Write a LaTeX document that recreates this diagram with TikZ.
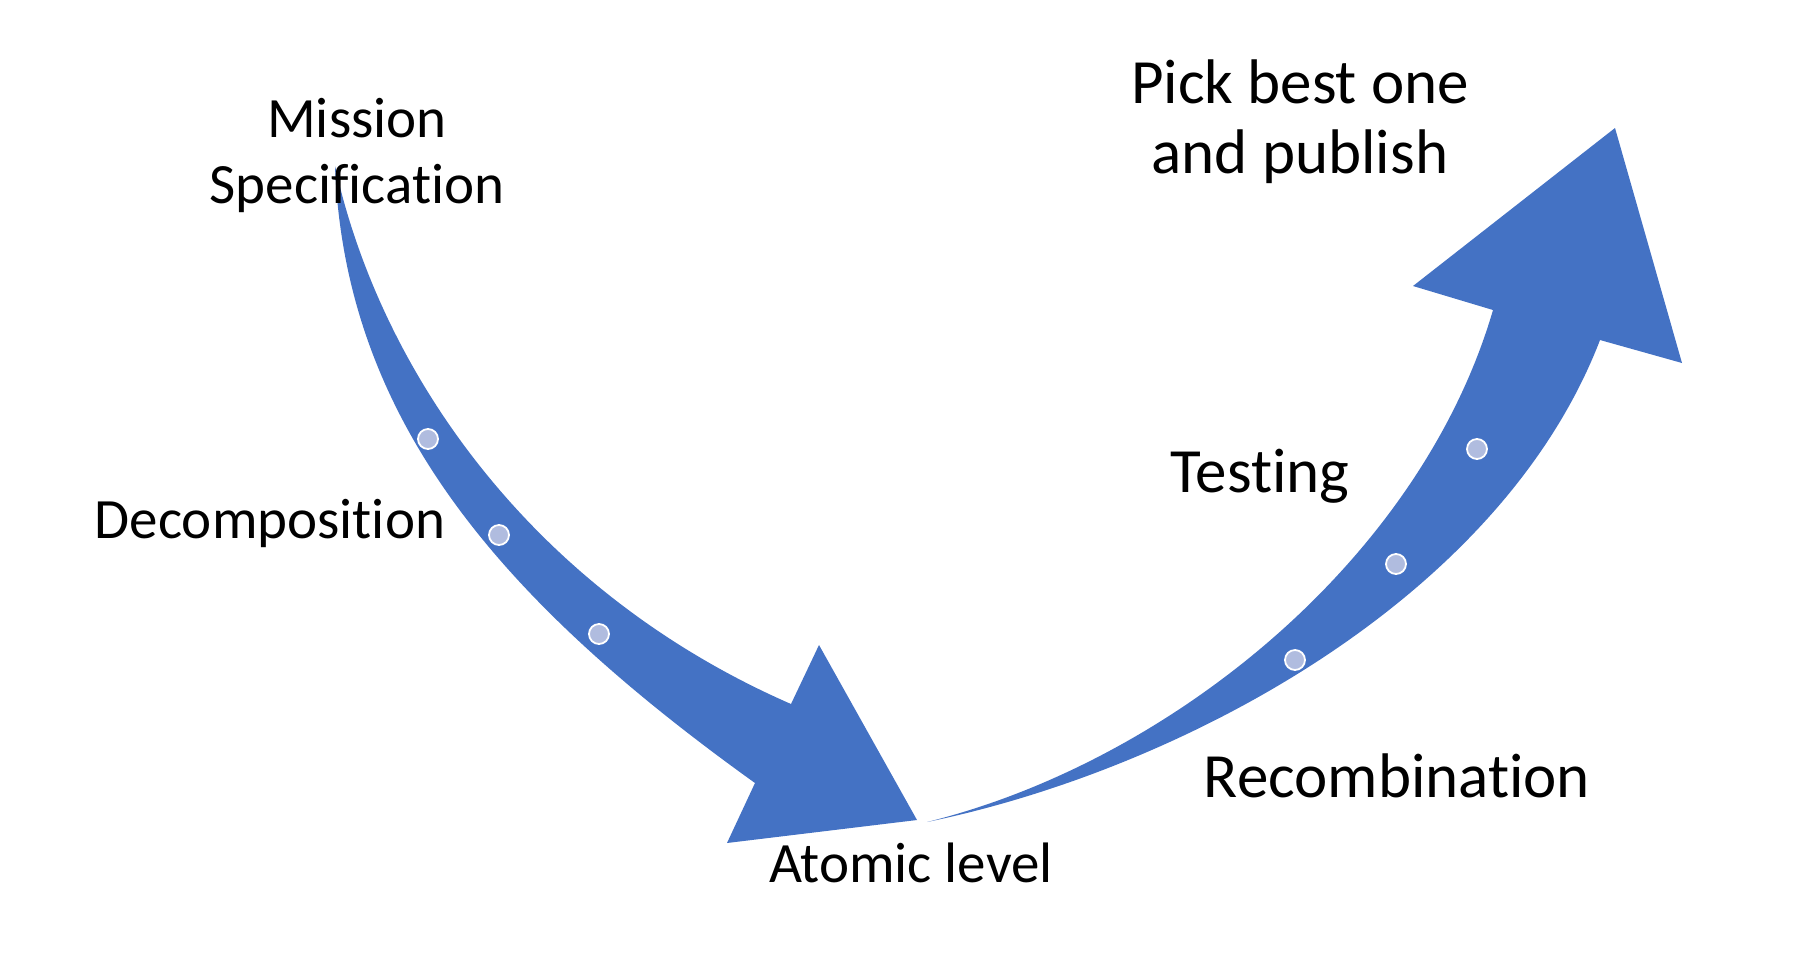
\documentclass[tikz,border=0pt]{standalone}
\usepackage{fontspec}
\setmainfont{Carlito}[Ligatures={NoCommon}]
\definecolor{ArrowBlue}{HTML}{4472C4}
\definecolor{DotBlue}{HTML}{B0BCDF}

\begin{document}
\begin{tikzpicture}[x=0.5pt, y=-0.5pt,
ArrowStyle/.style={fill=ArrowBlue},
DotStyle/.style={circle, fill=DotBlue, draw=white, line width=0.9pt,
                minimum size=10pt, inner sep=0pt},
LabelStyle/.style={align=center, inner sep=0pt, anchor=base,
                font=\fontsize{28.5}{33}\selectfont},
BigLabelStyle/.style={LabelStyle, font=\fontsize{31.5}{35}\selectfont},]
\useasboundingbox (0,0) rectangle (1816,971);

% going down
\fill[ArrowStyle] (335,166) .. controls (380,370) and (530,590) .. (791,704)
  -- (819,645) -- (917,820) -- (727,843) -- (755,783)
  .. controls (500,600) and (345,420) .. (335,166) -- cycle;
% going up
\fill[ArrowStyle] (927,822) .. controls (1170,762) and (1420,560) .. (1493,310)
  -- (1413,286) -- (1615,128) -- (1682,363) -- (1600,340)
  .. controls (1500,600) and (1180,770) .. (927,822) -- cycle;

\foreach \name/\x/\y in {d1/428/439, d2/499/535, d3/599/634,
                         u1/1295/660, u2/1396/564, u3/1477/449}
  \node [DotStyle] (\name) at (\x,\y) {};

\node [LabelStyle] (mission) at (357,203) {Mission\\Specification};
\node [LabelStyle] (decomp) at (270,538) {Decomposition};
\node [LabelStyle] (atomic) at (911,882) {Atomic level};
\node [BigLabelStyle] (recomb) at (1397,797) {Recombination};
\node [BigLabelStyle] (testing) at (1260,492) {Testing};
\node [BigLabelStyle] (publish) at (1300,173) {Pick best one\\and publish};
\end{tikzpicture}
\end{document}
